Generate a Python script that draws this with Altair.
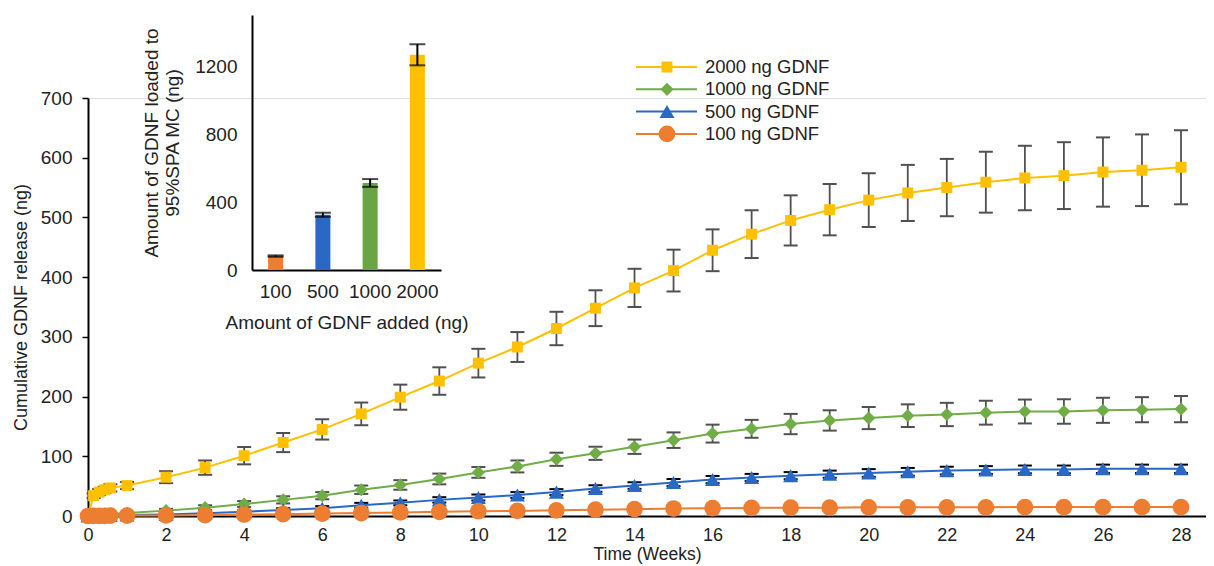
import altair as alt
import pandas as pd

# ---------------- data ----------------
weeks = [0, 1/7, 2/7, 3/7, 4/7] + list(range(1, 29))

series = ["2000 ng GDNF", "1000 ng GDNF", "500 ng GDNF", "100 ng GDNF"]

y2000 = [0, 34, 40, 44, 47, 51, 65, 81, 101, 123, 145, 171, 199, 226, 256, 283, 314, 348,
         382, 411, 445, 472, 495, 513, 529, 541, 550, 559, 566, 570, 576, 579, 584]
e2000 = [0, 4, 5, 5, 6, 6, 10, 12, 14.5, 16, 17, 19, 21, 23, 24, 25, 28, 30,
         32, 35, 35, 40, 42, 43, 45, 47, 48, 51, 54, 56, 58, 60, 62]

y1000 = [0, 2, 2.5, 3, 3.5, 5, 9, 14, 20, 27, 34, 44, 52, 62, 73, 83, 95, 105,
         116, 127, 138, 146, 154, 160, 164, 168, 170, 173, 175, 175, 177, 178, 179]
e1000 = [0, 1, 1, 1, 1, 2, 3, 4, 5, 6, 6, 7, 8, 9, 9, 10, 11, 11,
         12, 13, 15, 15, 17, 17, 18.5, 19, 19.5, 20, 20, 20.5, 21, 21, 22]

y500 = [0, 0.5, 0.7, 0.9, 1, 1.5, 2.5, 4.5, 7, 10, 13, 18, 22, 27, 31, 35, 40, 46,
        51, 56, 61, 64.5, 67.5, 70, 72, 74, 76, 77, 78, 78, 79, 79, 79]
e500 = [0, 0.5, 0.5, 0.5, 0.5, 1, 1.5, 2, 2.5, 3, 3.5, 4, 4, 4.5, 5, 5, 5, 5.5,
        5.5, 6, 6, 6, 6, 6, 6.5, 6.5, 6.5, 6.5, 6.5, 6.5, 7, 7, 7]

y100 = [0, 0.2, 0.3, 0.4, 0.5, 0.7, 1, 1.5, 2.5, 3, 4, 5, 6, 7, 8, 8.5, 9.5, 10.5,
        11.5, 12.5, 13, 13.5, 14, 14, 14.5, 14.5, 14.5, 14.5, 15, 15, 15, 15, 15]
e100 = [0, 0.5, 0.5, 0.5, 0.5, 0.5, 1, 1, 1, 1.5, 1.5, 1.5, 1.5, 1.5, 1.5, 1.5, 1.5, 1.5,
        1.5, 1.5, 1.5, 1.5, 1.5, 1.5, 1.5, 1.5, 1.5, 1.5, 1.5, 1.5, 1.5, 1.5, 1.5]

inset_added = ["100", "500", "1000", "2000"]
inset_loaded = [82, 325, 512, 1266]
inset_err = [4, 12, 23, 62]

# ---------------- styles ----------------
FONT = "Liberation Sans"
TXT = "#222222"
line_colors = ["#FFC000", "#70AD47", "#2A68C6", "#ED7D31"]
err_colors = ["#505050", "#505050", "#000000", "#707070"]
shapes = ["square", "diamond", "triangle-up", "circle"]
sizes = [120, 280, 180, 130]
bar_colors = ["#ED7D31", "#2A68C6", "#6BA443", "#FFC000"]

W, H = 1118, 418

rows = []
for name, ys, es in zip(series, [y2000, y1000, y500, y100], [e2000, e1000, e500, e100]):
    for t, v, e in zip(weeks, ys, es):
        rows.append({"series": name, "t": t, "v": v, "lo": v - e, "hi": v + e})
df = pd.DataFrame(rows)

inset_df = pd.DataFrame({"added": inset_added, "loaded": inset_loaded, "err": inset_err})
inset_df["lo"] = inset_df["loaded"] - inset_df["err"]
inset_df["hi"] = inset_df["loaded"] + inset_df["err"]

legend_df = pd.DataFrame({"label": series, "i": list(range(len(series)))})

# ---------------- main chart ----------------
xs = alt.Scale(domain=[0, 28.64], nice=False, zero=False)
ys = alt.Scale(domain=[0, 700], nice=False)
x_axis = alt.Axis(values=list(range(0, 29, 2)), title="Time (Weeks)", grid=False,
                  ticks=False, tickSize=0, domainColor="black", domainWidth=2,
                  labelFontSize=18, titleFontSize=17.5, labelPadding=10, titlePadding=1,
                  labelFont=FONT, titleFont=FONT, labelColor=TXT, titleColor=TXT,
                  titleFontWeight="normal", labelFlush=False)
y_axis = alt.Axis(values=list(range(0, 701, 100)), title="Cumulative GDNF release (ng)",
                  grid=False, ticks=True, tickSize=6, tickColor="black", tickWidth=1.5,
                  domainColor="black", domainWidth=2, labelFontSize=19, titleFontSize=18,
                  labelPadding=10, titlePadding=10, labelFont=FONT, titleFont=FONT,
                  labelColor=TXT, titleColor=TXT, titleFontWeight="normal")

color_s = alt.Scale(domain=series, range=line_colors)
stroke_s = alt.Scale(domain=series, range=err_colors)

base = alt.Chart(df)
err_v = base.mark_rule(strokeWidth=1.8).encode(
    x=alt.X("t:Q", scale=xs, axis=x_axis),
    y=alt.Y("lo:Q", scale=ys, axis=y_axis),
    y2="hi:Q",
    stroke=alt.Stroke("series:N", scale=stroke_s, legend=None),
)
err_top = base.mark_rule(strokeWidth=2, xOffset=-7, x2Offset=7).encode(
    x="t:Q", x2="t:Q", y="hi:Q",
    stroke=alt.Stroke("series:N", scale=stroke_s, legend=None),
)
err_bot = base.mark_rule(strokeWidth=2, xOffset=-7, x2Offset=7).encode(
    x="t:Q", x2="t:Q", y="lo:Q",
    stroke=alt.Stroke("series:N", scale=stroke_s, legend=None),
)
lines = base.mark_line(strokeWidth=2).encode(
    x="t:Q", y="v:Q",
    color=alt.Color("series:N", scale=color_s, legend=None),
)
points = base.mark_point(filled=True, opacity=1).encode(
    x="t:Q", y="v:Q",
    color=alt.Color("series:N", scale=color_s, legend=None),
    shape=alt.Shape("series:N", scale=alt.Scale(domain=series, range=shapes), legend=None),
    size=alt.Size("series:N", scale=alt.Scale(domain=series, range=sizes), legend=None),
)
main = alt.layer(err_v, err_top, err_bot, lines, points)

# ---------------- inset bar chart ----------------
ix0, ix1 = 164, 353
iy0, iy1 = 172, -83
bx = alt.Scale(domain=inset_added, range=[ix0, ix1], paddingInner=0, paddingOuter=0)
by = alt.Scale(domain=[0, 1500], range=[iy0, iy1], nice=False)
ix_axis = alt.Axis(orient="bottom", offset=iy0 - H, title="Amount of GDNF added (ng)",
                   grid=False, ticks=False, tickSize=0, domainColor="black", domainWidth=2,
                   labelAngle=0, labelFontSize=19, titleFontSize=19, labelPadding=12,
                   titlePadding=12, labelFont=FONT, titleFont=FONT, labelColor=TXT,
                   titleColor=TXT, titleFontWeight="normal")
iy_axis = alt.Axis(orient="left", offset=-ix0, values=[0, 400, 800, 1200], format="d",
                   title=["Amount of GDNF loaded to", "95%SPA MC (ng)"],
                   grid=False, ticks=False, tickSize=0, domainColor="black", domainWidth=2,
                   labelFontSize=19, titleFontSize=19, labelPadding=15, titlePadding=12,
                   labelFont=FONT, titleFont=FONT, labelColor=TXT, titleColor=TXT,
                   titleFontWeight="normal")

ibase = alt.Chart(inset_df)
bars = ibase.mark_bar(width=15).encode(
    x=alt.X("added:N", scale=bx, axis=ix_axis, sort=inset_added),
    y=alt.Y("loaded:Q", scale=by, axis=iy_axis),
    color=alt.Color("added:N", scale=alt.Scale(domain=inset_added, range=bar_colors), legend=None),
)
ierr = ibase.mark_rule(color="black", strokeWidth=2).encode(
    x=alt.X("added:N", sort=inset_added), y="lo:Q", y2="hi:Q")
icap_t = ibase.mark_tick(color="black", thickness=2, size=16, orient="horizontal").encode(
    x=alt.X("added:N", sort=inset_added), y="hi:Q")
icap_b = ibase.mark_tick(color="black", thickness=2, size=16, orient="horizontal").encode(
    x=alt.X("added:N", sort=inset_added), y="lo:Q")
inset = alt.layer(bars, ierr, icap_t, icap_b)

# ---------------- legend ----------------
lbase = alt.Chart(legend_df).transform_calculate(ly="-31 + 22.3 * datum.i")
leg_line = lbase.mark_rule(strokeWidth=2).encode(
    x=alt.value(548), x2=alt.value(609),
    y=alt.Y("ly:Q", scale=None),
    color=alt.Color("label:N", scale=color_s, legend=None),
)
leg_pt = lbase.mark_point(filled=True, opacity=1).encode(
    x=alt.value(579),
    y=alt.Y("ly:Q", scale=None),
    color=alt.Color("label:N", scale=color_s, legend=None),
    shape=alt.Shape("label:N", scale=alt.Scale(domain=series, range=shapes), legend=None),
    size=alt.Size("label:N", scale=alt.Scale(domain=series, range=sizes), legend=None),
)
leg_txt = lbase.mark_text(align="left", baseline="middle", fontSize=18.5, font=FONT,
                          color=TXT).encode(
    x=alt.value(617),
    y=alt.Y("ly:Q", scale=None),
    text="label:N",
)
legend = alt.layer(leg_line, leg_pt, leg_txt)

chart = alt.layer(main, inset, legend).resolve_scale(
    x="independent", y="independent", color="independent",
    shape="independent", size="independent", stroke="independent",
).properties(
    width=W, height=H,
    autosize=alt.AutoSizeParams(type="none"),
    padding={"left": 80, "top": 90, "right": 0, "bottom": 50},
).configure_view(stroke=None).configure(font=FONT)

chart.save("out.html", embed_options={"renderer": "svg", "actions": False})
